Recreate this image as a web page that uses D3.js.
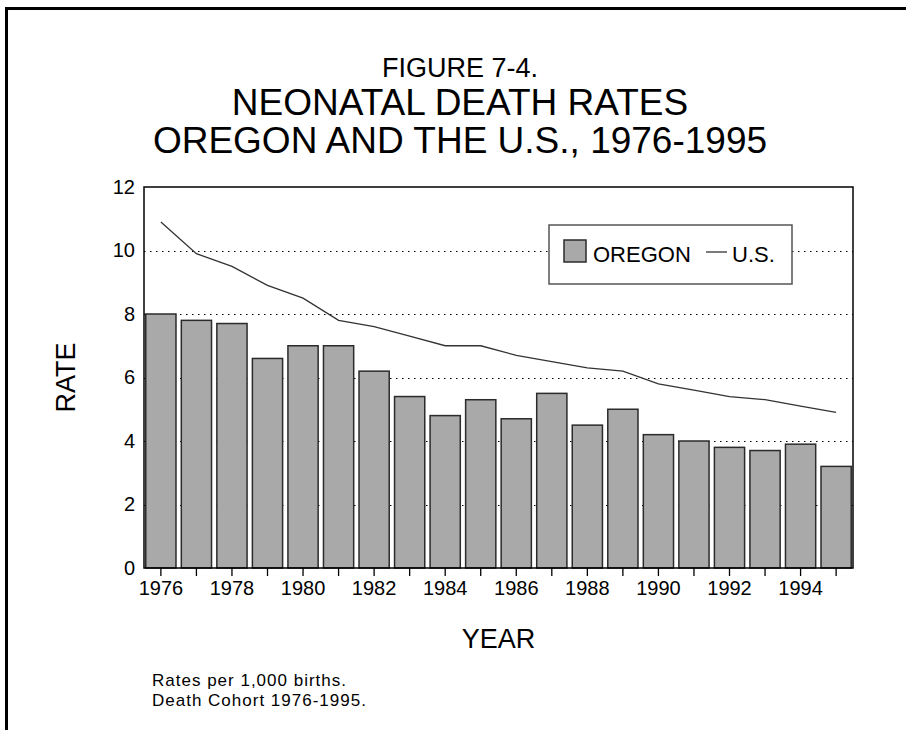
<!DOCTYPE html>
<html>
<head>
<meta charset="utf-8">
<script src="https://cdn.jsdelivr.net/npm/d3@7"></script>
<style>
  body { margin: 0; background: #fff; }
  text { font-family: "Liberation Sans", Arial, sans-serif; fill: #000; }
</style>
</head>
<body>
<svg id="chart" width="906" height="730"></svg>
<script>
// data
var years = [1976, 1977, 1978, 1979, 1980, 1981, 1982, 1983, 1984, 1985,
             1986, 1987, 1988, 1989, 1990, 1991, 1992, 1993, 1994, 1995];
var oregon = [8.0, 7.8, 7.7, 6.6, 7.0, 7.0, 6.2, 5.4, 4.8, 5.3,
              4.7, 5.5, 4.5, 5.0, 4.2, 4.0, 3.8, 3.7, 3.9, 3.2];
var us = [10.9, 9.9, 9.5, 8.9, 8.5, 7.8, 7.6, 7.3, 7.0, 7.0,
          6.7, 6.5, 6.3, 6.2, 5.8, 5.6, 5.4, 5.3, 5.1, 4.9];
var yTicks = [0, 2, 4, 6, 8, 10, 12];
var titleLines = ["FIGURE 7-4.", "NEONATAL DEATH RATES", "OREGON AND THE U.S., 1976-1995"];
var notes = ["Rates per 1,000 births.", "Death Cohort 1976-1995."];

var svg = d3.select('#chart');

var plot = {l: 144, r: 853, t: 187, b: 568};

// page frame (top and left edges only)
svg.append('line').attr('x1', 5).attr('x2', 906).attr('y1', 8.5).attr('y2', 8.5)
    .attr('stroke', '#000').attr('stroke-width', 3);
svg.append('line').attr('x1', 6.5).attr('x2', 6.5).attr('y1', 7).attr('y2', 730)
    .attr('stroke', '#000').attr('stroke-width', 3);

// titles
var titleY = [77, 115, 153];
var titleSize = [27, 37, 37];
titleLines.forEach(function(t, i) {
  svg.append('text')
      .attr('x', 460).attr('y', titleY[i])
      .attr('text-anchor', 'middle')
      .style('font-size', titleSize[i] + 'px')
      .text(t);
});

var x = d3.scaleBand()
    .domain(years)
    .range([plot.l, plot.r])
    .paddingInner(0.15)
    .paddingOuter(0.05);

var y = d3.scaleLinear()
    .domain([0, 12])
    .range([plot.b, plot.t]);

// dotted gridlines behind the bars
svg.append('g').selectAll('line')
    .data(yTicks.filter(function(d) { return d > 0 && d < 12; }))
    .enter().append('line')
    .attr('x1', plot.l).attr('x2', plot.r)
    .attr('y1', function(d) { return Math.round(y(d)) + 0.5; })
    .attr('y2', function(d) { return Math.round(y(d)) + 0.5; })
    .attr('stroke', '#000')
    .attr('stroke-width', 1.2)
    .attr('stroke-dasharray', '1.5,4.5');

// bars
svg.append('g').selectAll('rect')
    .data(years)
    .enter().append('rect')
    .attr('x', function(d) { return x(d); })
    .attr('y', function(d, i) { return y(oregon[i]); })
    .attr('width', x.bandwidth())
    .attr('height', function(d, i) { return y(0) - y(oregon[i]); })
    .style('fill', '#a9a9a9')
    .style('stroke', '#2b2b2b')
    .style('stroke-width', 1.5);

// U.S. line
var line = d3.line()
    .x(function(d, i) { return x(years[i]) + x.bandwidth() / 2; })
    .y(function(d) { return y(d); });

svg.append('path')
    .datum(us)
    .attr('d', line)
    .attr('fill', 'none')
    .attr('stroke', '#333')
    .attr('stroke-width', 1.3);

// plot frame
svg.append('rect')
    .attr('x', plot.l).attr('y', plot.t)
    .attr('width', plot.r - plot.l).attr('height', plot.b - plot.t)
    .attr('fill', 'none').attr('stroke', '#000').attr('stroke-width', 1.5);

// x axis: tick at every year, label on even years
var xAxis = d3.axisBottom(x)
    .tickSize(8)
    .tickSizeOuter(0)
    .tickPadding(5)
    .tickFormat(function(d) { return d % 2 === 0 ? d : ''; });

var gx = svg.append('g')
    .attr('transform', 'translate(0,' + plot.b + ')')
    .call(xAxis);
gx.select('.domain').remove();
gx.selectAll('line').attr('stroke', '#000').attr('stroke-width', 1.3);
gx.selectAll('text').style('font-size', '20px').attr('font-family', null);

// y axis labels
var yAxis = d3.axisLeft(y)
    .tickValues(yTicks)
    .tickSize(0)
    .tickPadding(9);

var gy = svg.append('g')
    .attr('transform', 'translate(' + plot.l + ',0)')
    .call(yAxis);
gy.select('.domain').remove();
gy.selectAll('text').style('font-size', '20px').attr('font-family', null);

// axis titles
svg.append('text')
    .attr('transform', 'translate(75,' + ((plot.t + plot.b) / 2) + ') rotate(-90)')
    .attr('text-anchor', 'middle')
    .style('font-size', '27px')
    .text('RATE');

svg.append('text')
    .attr('x', (plot.l + plot.r) / 2).attr('y', 648)
    .attr('text-anchor', 'middle')
    .style('font-size', '27px')
    .text('YEAR');

// legend
var legend = svg.append('g').attr('transform', 'translate(549,225)');
legend.append('rect')
    .attr('width', 243).attr('height', 59)
    .attr('fill', '#fff').attr('stroke', '#555').attr('stroke-width', 1.5);
legend.append('rect')
    .attr('x', 15).attr('y', 15).attr('width', 22).attr('height', 22)
    .style('fill', '#a9a9a9').style('stroke', '#2b2b2b').style('stroke-width', 1.5);
legend.append('text')
    .attr('x', 44).attr('y', 37)
    .style('font-size', '22px')
    .text('OREGON');
legend.append('line')
    .attr('x1', 157).attr('x2', 178).attr('y1', 27).attr('y2', 27)
    .attr('stroke', '#333').attr('stroke-width', 1.3);
legend.append('text')
    .attr('x', 183).attr('y', 37)
    .style('font-size', '22px')
    .text('U.S.');

// footnotes
notes.forEach(function(t, i) {
  svg.append('text')
      .attr('x', 152).attr('y', 686 + i * 20)
      .style('font-size', '17px')
      .style('letter-spacing', '1px')
      .text(t);
});
</script>
</body>
</html>
